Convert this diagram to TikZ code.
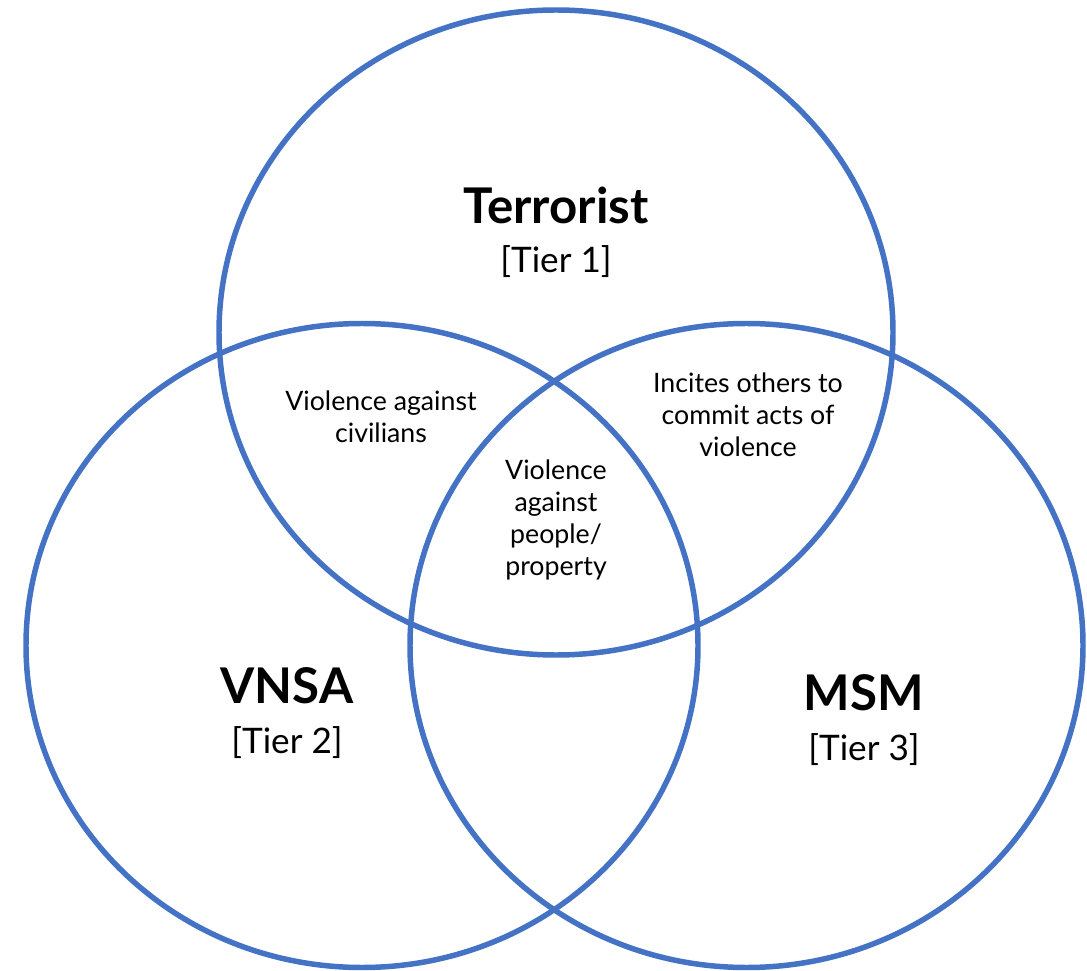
\documentclass[tikz,border=0pt]{standalone}
\usepackage{fontspec}
\setmainfont{Lato}
\usepackage{tikz}
\definecolor{vennblue}{HTML}{4472C4}

\begin{document}
\begin{tikzpicture}[x=0.025cm,y=-0.025cm,
    ring/.style={draw=vennblue, line width=3.9pt},
    title/.style={font=\fontsize{35}{40}\selectfont\bfseries},
    tier/.style={font=\fontsize{25}{30}\selectfont},
    overlap/.style={font=\fontsize{19}{22.7}\selectfont, align=center}]
      \useasboundingbox (0,0) rectangle (1087,971);

      % circle centres
      \coordinate (T) at (556,332.5);
      \coordinate (V) at (362,645.5);
      \coordinate (M) at (746.5,645.5);

      \draw[ring] (T) ellipse [x radius=337, y radius=322.5];
      \draw[ring] (V) ellipse [x radius=336, y radius=322];
      \draw[ring] (M) ellipse [x radius=336.5, y radius=322];

      % Terrorist
      \node (terr) at (556,205) [title] {Terrorist};
      \node (terr1) at (556,262) [tier] {[Tier 1]};

      % VNSA
      \node (vnsa) at (287,686) [title] {VNSA};
      \node (vnsa2) at (287,743) [tier] {[Tier 2]};

      % MSM
      \node (msm) at (864,693) [title] {MSM};
      \node (msm3) at (864,750) [tier] {[Tier 3]};

      % overlaps
      \node (tv) at (381,417) [overlap] {Violence against\\civilians};
      \node (tm) at (748,415) [overlap] {Incites others to\\commit acts of\\violence};
      \node (all) at (556,520) [overlap] {Violence\\against\\people/\\property};
\end{tikzpicture}
\end{document}
